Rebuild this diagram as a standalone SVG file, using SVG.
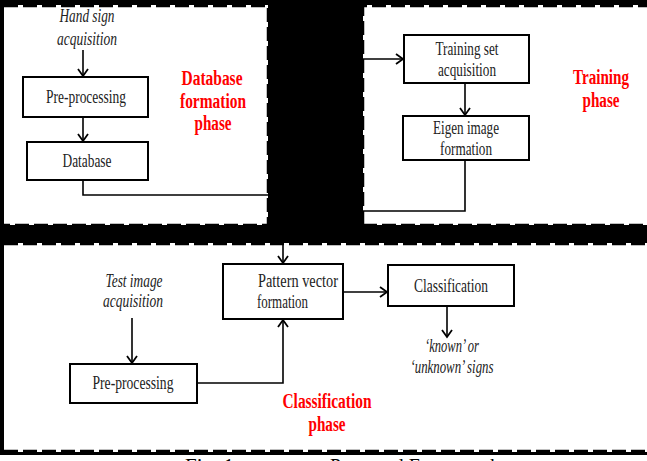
<svg xmlns="http://www.w3.org/2000/svg" width="647" height="461" viewBox="0 0 647 461">
<defs>
<style>
.panel{fill:#fff}
.edge{fill:none;stroke:#000;stroke-width:2.5;stroke-dasharray:14 5}
.box{fill:#fff;stroke:#000;stroke-width:2}
.t{font-family:"Liberation Serif","Times New Roman",serif;font-size:18.5px;fill:#222;text-anchor:middle}
.i{font-style:italic}
.red{font-family:"Liberation Serif","Times New Roman",serif;font-size:20px;font-weight:bold;fill:#f00;text-anchor:middle}
.cap{font-family:"Liberation Serif","Times New Roman",serif;font-size:21px;fill:#000}
.c{fill:none;stroke:#000;stroke-width:1.6}
</style>
<marker id="ah" markerUnits="userSpaceOnUse" markerWidth="12" markerHeight="12" refX="10" refY="6" orient="auto">
<path d="M3,1 L10,6 L3,11" fill="none" stroke="#000" stroke-width="1.8"/>
</marker>
</defs>
<rect x="0" y="0" width="647" height="461" fill="#fff"/>
<rect x="0" y="0" width="647" height="455" fill="#000"/>
<g id="panels">
<rect class="panel" x="4" y="5" width="264" height="220"/>
<rect class="panel" x="363" y="5" width="284" height="220"/>
<rect class="panel" x="4" y="243" width="643" height="209"/>
<path class="edge" d="M4,6 H268 V225 H4"/>
<path class="edge" d="M363,225 V6 H647 M363,225 H647"/>
<path class="edge" d="M4,244 H647 M4,451 H647"/>
</g>
<g id="connectors">
<line class="c" x1="83" y1="50" x2="83" y2="76" marker-end="url(#ah)"/>
<line class="c" x1="83" y1="117" x2="83" y2="141" marker-end="url(#ah)"/>
<polyline class="c" points="83,181 83,195 268,195"/>
<line class="c" x1="363" y1="59" x2="403" y2="59" marker-end="url(#ah)"/>
<line class="c" x1="465" y1="84" x2="465" y2="115" marker-end="url(#ah)"/>
<polyline class="c" points="465,161 465,211 363,211"/>
<line class="c" x1="283" y1="243" x2="283" y2="263" marker-end="url(#ah)"/>
<line class="c" x1="132" y1="318" x2="132" y2="363" marker-end="url(#ah)"/>
<polyline class="c" points="198,383 283,383 283,320" marker-end="url(#ah)"/>
<line class="c" x1="344" y1="292" x2="387" y2="292" marker-end="url(#ah)"/>
<line class="c" x1="447" y1="307" x2="447" y2="337" marker-end="url(#ah)"/>
</g>
<g id="hand-sign">
<text class="t i" x="87" y="22" textLength="55" lengthAdjust="spacingAndGlyphs">Hand sign</text>
<text class="t i" x="87" y="45" textLength="60" lengthAdjust="spacingAndGlyphs">acquisition</text>
</g>
<g id="preprocessing-top">
<rect class="box" x="23" y="77" width="125" height="40"/>
<text class="t" x="86" y="103" textLength="80" lengthAdjust="spacingAndGlyphs">Pre-processing</text>
</g>
<g id="database">
<rect class="box" x="27" y="142" width="121" height="38"/>
<text class="t" x="87" y="167" textLength="49" lengthAdjust="spacingAndGlyphs">Database</text>
</g>
<g id="database-phase">
<text class="red" x="212" y="85" textLength="61" lengthAdjust="spacingAndGlyphs">Database</text>
<text class="red" x="213" y="108" textLength="66" lengthAdjust="spacingAndGlyphs">formation</text>
<text class="red" x="213" y="130" textLength="37" lengthAdjust="spacingAndGlyphs">phase</text>
</g>
<g id="training-set">
<rect class="box" x="404" y="35" width="125" height="48"/>
<text class="t" x="467" y="55" textLength="63" lengthAdjust="spacingAndGlyphs">Training set</text>
<text class="t" x="467" y="76" textLength="58" lengthAdjust="spacingAndGlyphs">acquisition</text>
</g>
<g id="eigen">
<rect class="box" x="403" y="116" width="126" height="44"/>
<text class="t" x="466" y="134" textLength="66" lengthAdjust="spacingAndGlyphs">Eigen image</text>
<text class="t" x="466" y="155" textLength="52" lengthAdjust="spacingAndGlyphs">formation</text>
</g>
<g id="training-phase">
<text class="red" x="601" y="84" textLength="56" lengthAdjust="spacingAndGlyphs">Training</text>
<text class="red" x="601" y="107" textLength="37" lengthAdjust="spacingAndGlyphs">phase</text>
</g>
<g id="test-image">
<text class="t i" x="134" y="287" textLength="57" lengthAdjust="spacingAndGlyphs">Test image</text>
<text class="t i" x="133" y="307" textLength="60" lengthAdjust="spacingAndGlyphs">acquisition</text>
</g>
<g id="preprocessing-bottom">
<rect class="box" x="70" y="364" width="127" height="39"/>
<text class="t" x="133" y="389" textLength="81" lengthAdjust="spacingAndGlyphs">Pre-processing</text>
</g>
<g id="pattern-vector">
<rect class="box" x="223" y="264" width="120" height="55"/>
<text class="t" x="258" y="287" style="text-anchor:start" textLength="80" lengthAdjust="spacingAndGlyphs">Pattern vector</text>
<text class="t" x="257" y="308" style="text-anchor:start" textLength="51" lengthAdjust="spacingAndGlyphs">formation</text>
</g>
<g id="classification">
<rect class="box" x="388" y="265" width="126" height="41"/>
<text class="t" x="451" y="292" textLength="74" lengthAdjust="spacingAndGlyphs">Classification</text>
</g>
<g id="result">
<text class="t i" x="452" y="352" textLength="54" lengthAdjust="spacingAndGlyphs">‘known’ or</text>
<text class="t i" x="452" y="373" textLength="83" lengthAdjust="spacingAndGlyphs">‘unknown’ signs</text>
</g>
<g id="classification-phase">
<text class="red" x="327" y="408" textLength="89" lengthAdjust="spacingAndGlyphs">Classification</text>
<text class="red" x="327" y="431" textLength="37" lengthAdjust="spacingAndGlyphs">phase</text>
</g>
<g id="caption">
<text class="cap" x="185" y="473">Fig. 1</text>
<text class="cap" x="330" y="473" textLength="170" lengthAdjust="spacingAndGlyphs">Proposed Framework</text>
</g>
</svg>
